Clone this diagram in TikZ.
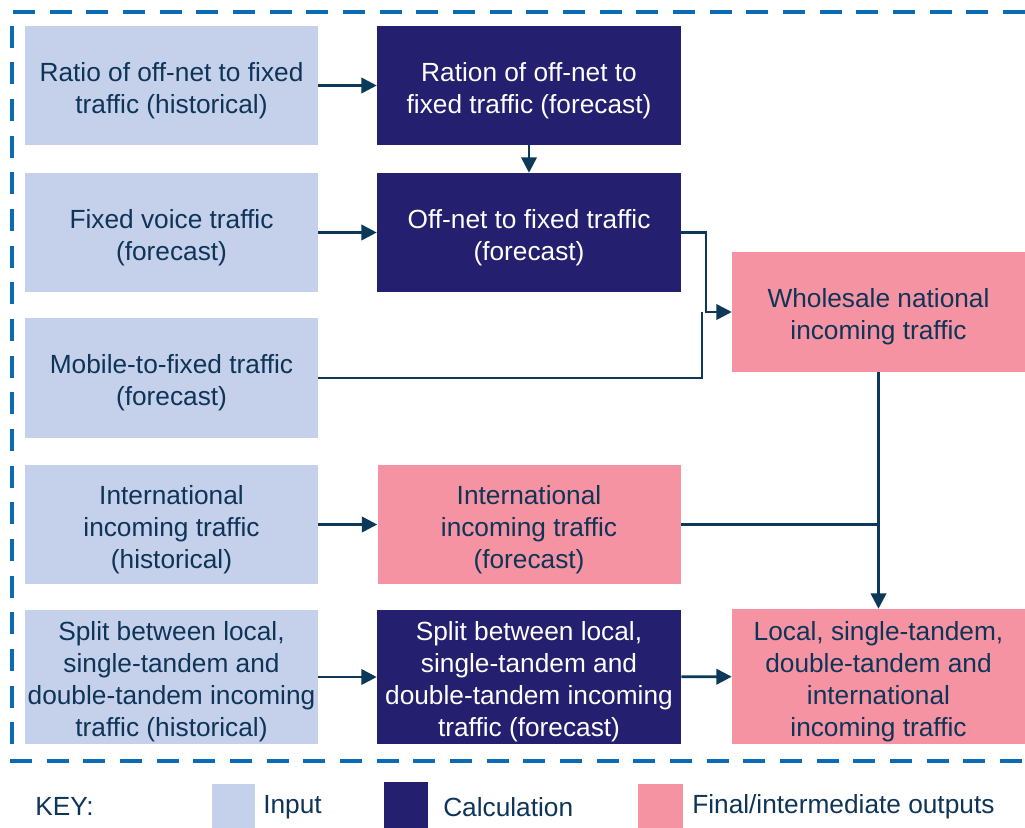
\documentclass[tikz,border=0pt]{standalone}
\usepackage{fontspec}
\setmainfont{Liberation Sans}
\usetikzlibrary{arrows.meta}
\definecolor{inputblue}{RGB}{197,208,234}
\definecolor{calcnavy}{RGB}{36,31,110}
\definecolor{outpink}{RGB}{245,147,162}
\definecolor{textnavy}{RGB}{14,52,88}
\definecolor{linenavy}{RGB}{12,56,90}
\definecolor{borderblue}{RGB}{10,106,180}
\begin{document}
\begin{tikzpicture}
[x=0.75pt,y=-0.75pt,
  boxdecorate/.style={shape=rectangle,inner sep=0pt,align=center,
    font=\fontsize{19.7}{24}\selectfont},
  inputbox/.style={boxdecorate,fill=inputblue,text=textnavy},
  calcbox/.style={boxdecorate,fill=calcnavy,text=white},
  outbox/.style={boxdecorate,fill=outpink,text=textnavy},
  keydecorate/.style={anchor=west,inner sep=0pt,text=textnavy,
    font=\fontsize{19.7}{24}\selectfont},
  linedecorate/.style={line width=2pt,draw=linenavy,
    -{Triangle[length=11.5pt,width=11.5pt]}},
  joindecorate/.style={line width=2pt,draw=linenavy}]
\useasboundingbox (0,0) rectangle (1025,828);
%% dashed frame
\draw[borderblue,line width=3pt,dash pattern=on 16.5pt off 11pt]
  (1025,12) -- (12,12) -- (12,761) -- (1025,761);
%% boxes
\foreach \nodename/\x/\y/\w/\h/\kind/\txt in {
  in1/171.5/85.5/293/119/inputbox/{Ratio of off-net to fixed\\traffic (historical)},
  in2/171.5/232.5/293/119/inputbox/{Fixed voice traffic\\(forecast)},
  in3/171.5/378/293/120/inputbox/{Mobile-to-fixed traffic\\(forecast)},
  in4/171.5/524.5/293/119/inputbox/{International\\incoming traffic\\(historical)},
  in5/171.5/677/293/134/inputbox/{Split between local,\\single-tandem and\\double-tandem incoming\\traffic (historical)},
  calc1/529/85.5/304/119/calcbox/{Ration of off-net to\\fixed traffic (forecast)},
  calc2/529/232.5/304/119/calcbox/{Off-net to fixed traffic\\(forecast)},
  out4/529/524.5/303/119/outbox/{International\\incoming traffic\\(forecast)},
  calc5/529/677/304/134/calcbox/{Split between local,\\single-tandem and\\double-tandem incoming\\traffic (forecast)},
  whole/878.5/312/293/120/outbox/{Wholesale national\\incoming traffic},
  local/878.5/676.5/293/135/outbox/{Local, single-tandem,\\double-tandem and\\international\\incoming traffic}}
{
  \node (\nodename) at (\x,\y) [\kind,minimum width=\w*0.75pt,
    minimum height=\h*0.75pt] {\rule{0pt}{21.5pt}\txt};
}
%% edges or lines
\path
\foreach \startnode/\endnode in {
  in1/calc1, calc1/calc2, in2/calc2, in4/out4, in5/calc5, calc5/local, whole/local} {
  (\startnode) edge[linedecorate] (\endnode)
};
\coordinate (mergeA) at (706,312);
\coordinate (mergeB) at (702,312);
\draw[linedecorate] (calc2.east) -| (mergeA) -- (whole.west);
\draw[joindecorate] (in3.east) -| (mergeB);
\draw[joindecorate] (out4.east) -- (out4.east -| whole.south);
%% key
\node (keytitle) at (35,806) [keydecorate] {KEY:};
\node (keyin) at (233.5,806) [inputbox,minimum width=43*0.75pt,
  minimum height=44*0.75pt] {};
\node (keycalc) at (406,805) [calcbox,minimum width=44*0.75pt,
  minimum height=46*0.75pt] {};
\node (keyout) at (660.5,806) [outbox,minimum width=45*0.75pt,
  minimum height=44*0.75pt] {};
\node (keyinlabel) at (263,807) [keydecorate] {Input};
\node (keycalclabel) at (443,807) [keydecorate] {Calculation};
\node (keyoutlabel) at (692,807) [keydecorate] {Final/intermediate outputs};
\end{tikzpicture}
\end{document}
